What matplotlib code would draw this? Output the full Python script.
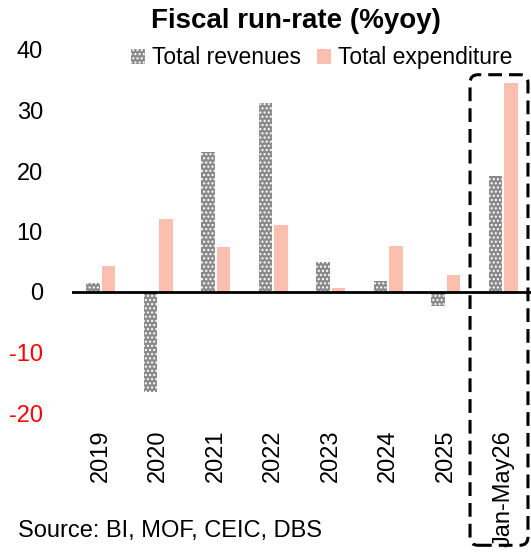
import matplotlib.pyplot as plt
from matplotlib.patches import FancyBboxPatch
import numpy as np

plt.rcParams['font.family'] = ['Liberation Sans', 'DejaVu Sans']
plt.rcParams['hatch.linewidth'] = 1.0
plt.rcParams['axes.unicode_minus'] = False

# datos
periodos = ['2019', '2020', '2021', '2022', '2023', '2024', '2025', 'Jan-May26']
ingresos = [1.5, -16.6, 23.2, 31.2, 5.0, 1.8, -2.3, 19.2]
gastos = [4.3, 12.1, 7.4, 11.1, 0.7, 7.6, 2.8, 34.5]

fig = plt.figure(figsize=(5.31, 5.52), dpi=100)
ax = fig.add_axes([72 / 531, 1 - 413 / 552, 460 / 531, 363 / 552])

x = np.arange(len(periodos))
ancho = 0.23
ax.bar(x - 0.135, ingresos, ancho, color='#8a8a8a', edgecolor='white',
       hatch='....', linewidth=0, label='Total revenues')
ax.bar(x + 0.135, gastos, ancho, color='#fbbfb0', label='Total expenditure')

ax.axhline(0, color='black', lw=2)
ax.set_xlim(-0.5, 7.5)
ax.set_ylim(-20, 40)
ax.set_yticks([-20, -10, 0, 10, 20, 30, 40])
ax.set_xticks(x)
ax.set_xticklabels(periodos, rotation=90)
ax.tick_params(axis='y', length=0, labelsize=17, pad=21)
ax.tick_params(axis='x', length=0, labelsize=17, pad=12)
for t, v in zip(ax.get_yticklabels(), ax.get_yticks()):
    t.set_color('red' if v < 0 else 'black')
for s in ax.spines.values():
    s.set_visible(False)

ax.legend(loc='center', bbox_to_anchor=(0.543, 0.978), ncol=2, frameon=False,
          fontsize=16.5, handlelength=0.6, handleheight=0.6, handletextpad=0.3,
          columnspacing=0.7, borderaxespad=0)

fig.text(0.557, 1 - 21 / 552, 'Fiscal run-rate (%yoy)', ha='center', va='center',
         fontsize=20, fontweight='bold')
fig.text(18 / 531, 1 - 531 / 552, 'Source: BI, MOF, CEIC, DBS', ha='left',
         va='center', fontsize=17)

# recuadro punteado
caja = FancyBboxPatch((478 / 531, 1 - 537 / 552), 42 / 531, 454 / 552,
                      boxstyle='round,pad=0.015', transform=fig.transFigure,
                      fill=False, edgecolor='black', lw=2.2,
                      linestyle=(0, (4.5, 2.3)), clip_on=False)
fig.patches.append(caja)

fig.savefig('out.png', dpi=100)
